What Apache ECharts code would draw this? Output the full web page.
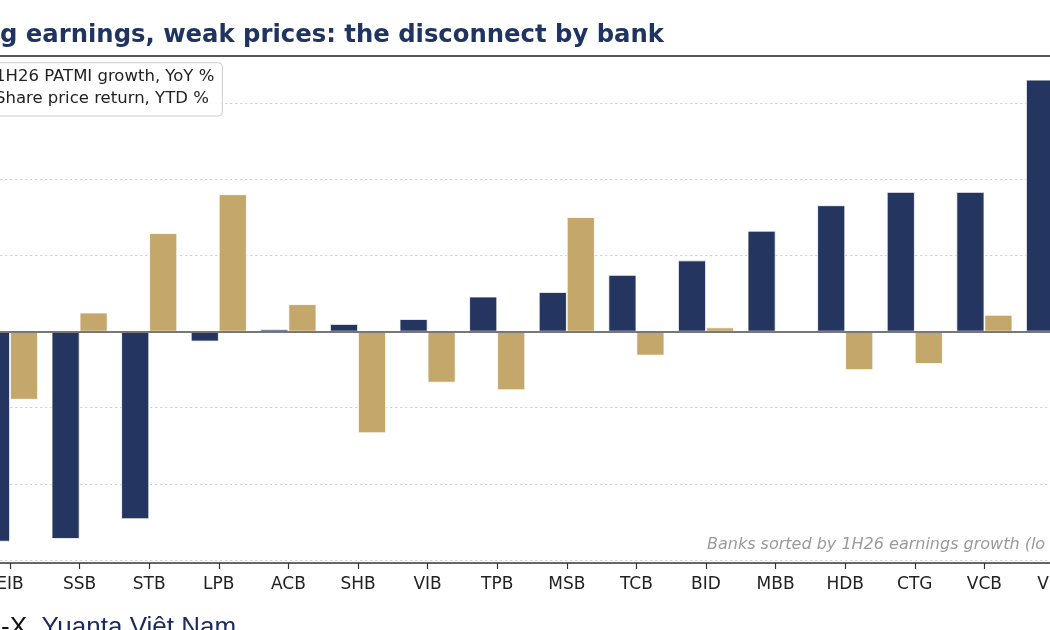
<!DOCTYPE html>
<html>
<head>
<meta charset="utf-8">
<script src="https://cdn.jsdelivr.net/npm/echarts@6/dist/echarts.min.js"></script>
<style>
html,body{margin:0;padding:0;background:#fff;overflow:hidden;width:1050px;height:630px;}
#wrap{position:relative;width:1050px;height:630px;overflow:hidden;}
#chart{position:absolute;left:-60px;top:0;width:1160px;height:630px;}
</style>
</head>
<body>
<div id="wrap"><div id="chart"></div></div>
<script>
var categories = ['EIB','SSB','STB','LPB','ACB','SHB','VIB','TPB','MSB','TCB','BID','MBB','HDB','CTG','VCB','VPB'];
var patmiGrowth = [-55.2,-54.5,-49.3,-2.6,0.6,2.0,3.3,9.2,10.4,14.9,18.7,26.5,33.2,36.7,36.7,66.2];
var priceReturn = [-17.9,5.0,25.9,36.1,7.2,-26.7,-13.4,-15.4,30.1,-6.3,1.1,0,-10.1,-8.5,4.4,null];
var seriesNames = ['1H26 PATMI growth, YoY %','Share price return, YTD %'];
var titleText = 'g earnings, weak prices: the disconnect by bank';
var noteText = 'Banks sorted by 1H26 earnings growth (lo';
var sourceLead = '-X, ';
var sourceName = 'Yuanta Việt Nam';
var yMin = -60, yMax = 60, yStep = 20;

var OFF = 60; // the canvas starts 60px left of the visible window
var NAVY = '#24365f', GOLD = '#c4a86b';
var chart = echarts.init(document.getElementById('chart'), null, {renderer:'canvas'});
chart.setOption({
  animation:false,
  backgroundColor:'#ffffff',
  title:{
    text:titleText, left:OFF, top:24, padding:0,
    textStyle:{fontFamily:'DejaVu Sans', fontWeight:'bold', fontSize:24.3, color:'#1f3461'}
  },
  legend:{
    orient:'vertical', left:OFF-44, top:62.7,
    padding:[6,8,9,8], itemWidth:25, itemHeight:14, itemGap:4.3,
    borderColor:'#cccccc', borderWidth:1, borderRadius:4,
    backgroundColor:'rgba(255,255,255,0.85)',
    icon:'rect',
    textStyle:{fontFamily:'DejaVu Sans', fontSize:16.5, color:'#222'},
    data:seriesNames
  },
  grid:{left:OFF-24.8, right:1160-(OFF-24.8)-1113.6, top:103.3, bottom:70.1, containLabel:false},
  xAxis:{
    type:'category', data:categories, position:'bottom', offset:3.1,
    axisLine:{show:true, onZero:false, lineStyle:{color:'#333', width:1.6}},
    axisTick:{show:true, alignWithLabel:true, length:6, lineStyle:{color:'#333', width:1.2}},
    axisLabel:{fontFamily:'DejaVu Sans', fontSize:17, color:'#222', margin:13},
    splitLine:{show:false}
  },
  yAxis:{
    type:'value', min:yMin, max:yMax, interval:yStep,
    axisLine:{show:false}, axisTick:{show:false}, axisLabel:{show:false},
    splitLine:{show:true, lineStyle:{color:'#cdcdcd', width:1, type:[2,3]}}
  },
  graphic:[
    {type:'line', silent:true, z:10, shape:{x1:OFF, y1:56, x2:OFF+1100, y2:56}, style:{stroke:'#555', lineWidth:2}},
    {type:'text', silent:true, z:10, x:OFF+707, y:545,
      style:{text:noteText, fontFamily:'DejaVu Sans', fontStyle:'italic', fontSize:16, fill:'#9a9a9a', verticalAlign:'middle', align:'left'}},
    {type:'text', silent:true, z:10, x:OFF+1, y:615,
      style:{text:'{a|'+sourceLead+'}{b|'+sourceName+'}', verticalAlign:'top', align:'left',
        rich:{a:{fontFamily:'Liberation Sans', fontSize:26, fill:'#111'}, b:{fontFamily:'Liberation Sans', fontSize:26, fill:'#1c2a5e'}}}}
  ],
  series:[
    {
      name:seriesNames[0], type:'bar', data:patmiGrowth, barWidth:28, barGap:'0%', clip:false,
      itemStyle:{color:NAVY, borderColor:'#ffffff', borderWidth:0.8},
      markLine:{silent:true, symbol:['none','none'], label:{show:false},
        lineStyle:{color:'#777', width:1.8, type:'solid'}, data:[{yAxis:0}]}
    },
    {
      name:seriesNames[1], type:'bar', data:priceReturn, barWidth:28, barGap:'0%', clip:false,
      itemStyle:{color:GOLD, borderColor:'#ffffff', borderWidth:0.8}
    }
  ]
});
</script>
</body>
</html>
